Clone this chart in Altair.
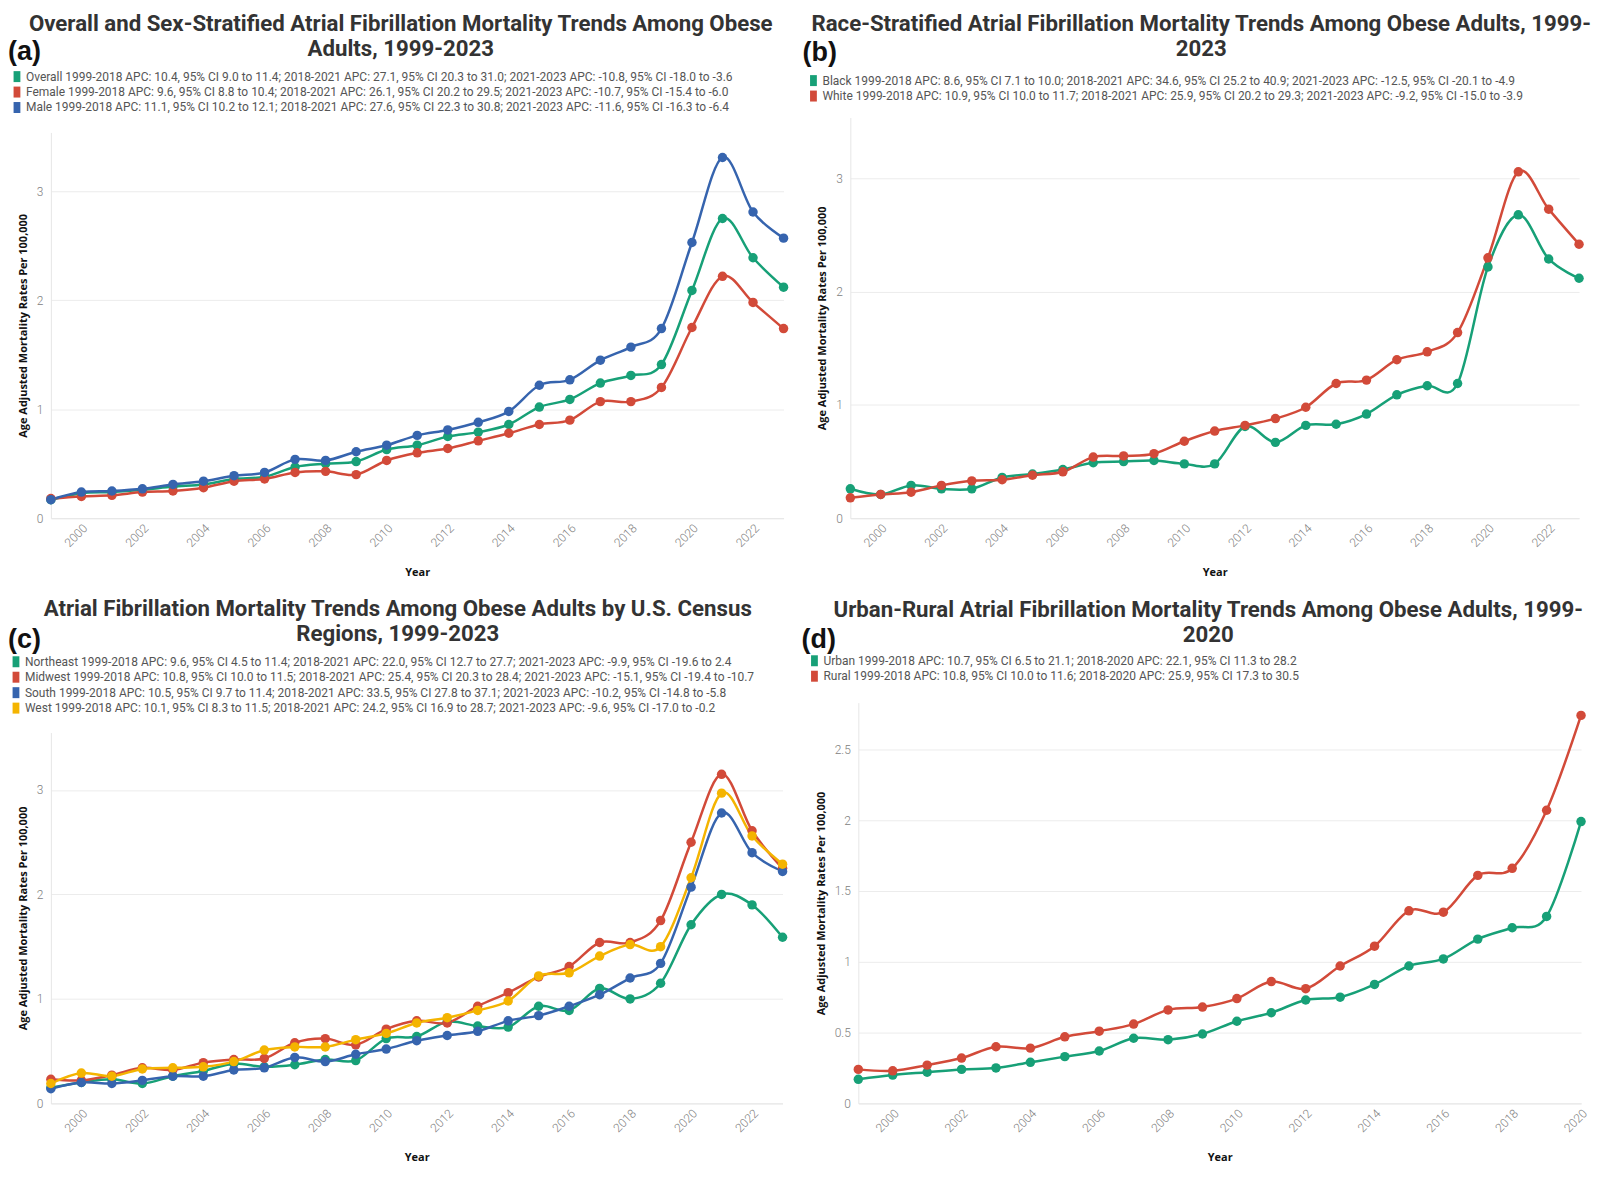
import altair as alt
import pandas as pd

# ---------------- data ----------------
years_full = list(range(1999, 2024))
years_ur = list(range(1999, 2021))

overall = [0.17, 0.23, 0.24, 0.26, 0.29, 0.31, 0.36, 0.38, 0.47, 0.50, 0.52, 0.63, 0.67,
           0.75, 0.79, 0.86, 1.02, 1.09, 1.24, 1.31, 1.41, 2.09, 2.75, 2.39, 2.12]
female = [0.18, 0.20, 0.21, 0.24, 0.25, 0.28, 0.34, 0.36, 0.42, 0.43, 0.40, 0.53, 0.60,
          0.64, 0.71, 0.78, 0.86, 0.90, 1.07, 1.07, 1.20, 1.75, 2.22, 1.98, 1.74]
male = [0.17, 0.24, 0.25, 0.27, 0.31, 0.34, 0.39, 0.42, 0.54, 0.53, 0.61, 0.67, 0.76,
        0.81, 0.88, 0.98, 1.22, 1.27, 1.45, 1.57, 1.74, 2.53, 3.31, 2.81, 2.57]

black = [0.26, 0.21, 0.29, 0.26, 0.26, 0.36, 0.39, 0.43, 0.49, 0.50, 0.51, 0.48, 0.48,
         0.81, 0.67, 0.82, 0.83, 0.92, 1.09, 1.17, 1.19, 2.22, 2.68, 2.29, 2.12]
white = [0.18, 0.21, 0.23, 0.29, 0.33, 0.34, 0.38, 0.41, 0.54, 0.55, 0.57, 0.68, 0.77,
         0.82, 0.88, 0.98, 1.19, 1.22, 1.40, 1.47, 1.64, 2.30, 3.06, 2.73, 2.42]

northeast = [0.15, 0.20, 0.23, 0.19, 0.26, 0.31, 0.38, 0.35, 0.37, 0.42, 0.41, 0.62, 0.64,
             0.78, 0.74, 0.73, 0.93, 0.89, 1.10, 1.00, 1.15, 1.71, 2.00, 1.90, 1.59]
midwest = [0.23, 0.22, 0.27, 0.34, 0.32, 0.39, 0.42, 0.43, 0.58, 0.62, 0.56, 0.71, 0.79,
           0.77, 0.93, 1.06, 1.21, 1.31, 1.54, 1.54, 1.75, 2.50, 3.15, 2.61, 2.25]
south = [0.14, 0.20, 0.19, 0.22, 0.26, 0.26, 0.32, 0.34, 0.44, 0.40, 0.47, 0.52, 0.60,
         0.65, 0.69, 0.79, 0.84, 0.93, 1.04, 1.20, 1.34, 2.07, 2.78, 2.40, 2.22]
west = [0.19, 0.29, 0.26, 0.33, 0.34, 0.35, 0.40, 0.51, 0.54, 0.54, 0.61, 0.67, 0.77,
        0.82, 0.89, 0.98, 1.22, 1.25, 1.41, 1.52, 1.50, 2.16, 2.97, 2.56, 2.29]

urban = [0.17, 0.20, 0.22, 0.24, 0.25, 0.29, 0.33, 0.37, 0.46, 0.45, 0.49, 0.58, 0.64,
         0.73, 0.75, 0.84, 0.97, 1.02, 1.16, 1.24, 1.32, 1.99]
rural = [0.24, 0.23, 0.27, 0.32, 0.40, 0.39, 0.47, 0.51, 0.56, 0.66, 0.68, 0.74, 0.86,
         0.81, 0.97, 1.11, 1.36, 1.35, 1.61, 1.66, 2.07, 2.74]

labels_a = [
    "Overall 1999-2018 APC: 10.4, 95% CI 9.0 to 11.4; 2018-2021 APC: 27.1, 95% CI 20.3 to 31.0; 2021-2023 APC: -10.8, 95% CI -18.0 to -3.6",
    "Female 1999-2018 APC: 9.6, 95% CI 8.8 to 10.4; 2018-2021 APC: 26.1, 95% CI 20.2 to 29.5; 2021-2023 APC: -10.7, 95% CI -15.4 to -6.0",
    "Male 1999-2018 APC: 11.1, 95% CI 10.2 to 12.1; 2018-2021 APC: 27.6, 95% CI 22.3 to 30.8; 2021-2023 APC: -11.6, 95% CI -16.3 to -6.4",
]
labels_b = [
    "Black 1999-2018 APC: 8.6, 95% CI 7.1 to 10.0; 2018-2021 APC: 34.6, 95% CI 25.2 to 40.9; 2021-2023 APC: -12.5, 95% CI -20.1 to -4.9",
    "White 1999-2018 APC: 10.9, 95% CI 10.0 to 11.7; 2018-2021 APC: 25.9, 95% CI 20.2 to 29.3; 2021-2023 APC: -9.2, 95% CI -15.0 to -3.9",
]
labels_c = [
    "Northeast 1999-2018 APC: 9.6, 95% CI 4.5 to 11.4; 2018-2021 APC: 22.0, 95% CI 12.7 to 27.7; 2021-2023 APC: -9.9, 95% CI -19.6 to 2.4",
    "Midwest 1999-2018 APC: 10.8, 95% CI 10.0 to 11.5; 2018-2021 APC: 25.4, 95% CI 20.3 to 28.4; 2021-2023 APC: -15.1, 95% CI -19.4 to -10.7",
    "South 1999-2018 APC: 10.5, 95% CI 9.7 to 11.4; 2018-2021 APC: 33.5, 95% CI 27.8 to 37.1; 2021-2023 APC: -10.2, 95% CI -14.8 to -5.8",
    "West 1999-2018 APC: 10.1, 95% CI 8.3 to 11.5; 2018-2021 APC: 24.2, 95% CI 16.9 to 28.7; 2021-2023 APC: -9.6, 95% CI -17.0 to -0.2",
]
labels_d = [
    "Urban 1999-2018 APC: 10.7, 95% CI 6.5 to 21.1; 2018-2020 APC: 22.1, 95% CI 11.3 to 28.2",
    "Rural 1999-2018 APC: 10.8, 95% CI 10.0 to 11.6; 2018-2020 APC: 25.9, 95% CI 17.3 to 30.5",
]

titles_a = ["Overall and Sex-Stratified Atrial Fibrillation Mortality Trends Among Obese", "Adults, 1999-2023"]
titles_b = ["Race-Stratified Atrial Fibrillation Mortality Trends Among Obese Adults, 1999-", "2023"]
titles_c = ["Atrial Fibrillation Mortality Trends Among Obese Adults by U.S. Census", "Regions, 1999-2023"]
titles_d = ["Urban-Rural Atrial Fibrillation Mortality Trends Among Obese Adults, 1999-", "2020"]

xticks_full = list(range(2000, 2023, 2))
xticks_ur = list(range(2000, 2021, 2))
yticks_int = [0, 1, 2, 3]
yticks_half = [0, 0.5, 1, 1.5, 2, 2.5]

GREEN = "#17a077"
RED = "#d24a39"
BLUE = "#3664ae"
YELLOW = "#f4b400"

RECT = "M-0.62,-1H0.62V1H-0.62Z"
TITLE_FONT = "Roboto"
TAG_FONT = "Liberation Sans, Arial"
YTITLE = "Age Adjusted Mortality Rates Per 100,000"
H = 402
TITLE_LH = 25.5


def text_layer(txt, x, y, font, size, color, align):
    one = pd.DataFrame({"k": [0]})
    return alt.Chart(one).mark_text(
        text=txt, align=align, baseline="top", font=font, fontSize=size,
        fontWeight="bold", color=color
    ).encode(x=alt.value(x), y=alt.value(y))


def make_panel(years, series, labels, colors, title_lines, tag, w, top_inset, ymax,
               yticks, xticks, geo):
    rows = []
    for lab, vals in zip(labels, series):
        for yr, v in zip(years, vals):
            rows.append({"year": yr, "rate": v, "series": lab})
    df = pd.DataFrame(rows)

    x = alt.X("year:Q",
              scale=alt.Scale(domain=[years[0], years[-1]], nice=False, zero=False),
              axis=alt.Axis(values=xticks, format="d", labelAngle=-45, title="Year",
                            grid=False, ticks=False, labelPadding=4, titlePadding=18,
                            domainColor="#e6e6e6"))
    y = alt.Y("rate:Q",
              scale=alt.Scale(domain=[0, ymax], nice=False, zero=True,
                              range=[H, top_inset]),
              axis=alt.Axis(values=yticks, format="~g", title=YTITLE, grid=True,
                            ticks=False, labelPadding=8, titlePadding=8,
                            domainColor="#e6e6e6", gridColor="#ececec"))
    cscale = alt.Scale(domain=labels, range=colors)
    leg = alt.Legend(orient="none", legendX=geo["lx"], legendY=geo["ly"],
                     title=None, direction="vertical", symbolType=RECT,
                     symbolSize=121, symbolStrokeWidth=0, symbolOpacity=1,
                     labelFont="Roboto", labelFontSize=12, labelColor="#555",
                     labelLimit=0, rowPadding=3.5, labelOffset=3)
    color = alt.Color("series:N", scale=cscale, sort=labels, legend=leg)

    lines = alt.Chart(df).mark_line(interpolate="cardinal", strokeWidth=2.5).encode(
        x=x, y=y, color=color, order="year:Q")
    pts = alt.Chart(df).mark_circle(size=90, opacity=1).encode(x=x, y=y, color=color)

    t1 = text_layer(title_lines[0], geo["tx"], geo["ty"], TITLE_FONT, 22.3, "#333333", "center")
    t2 = text_layer(title_lines[1], geo["tx"], geo["ty"] + TITLE_LH, TITLE_FONT, 22.3, "#333333", "center")
    tg = text_layer(tag, geo["gx"], geo["gy"], TAG_FONT, 27, "#111111", "left")

    return alt.layer(lines, pts, t1, t2, tg).properties(width=w, height=H)


pa = make_panel(years_full, [overall, female, male], labels_a, [GREEN, RED, BLUE],
                titles_a, "(a)", 735, 15, 3.54, yticks_int, xticks_full,
                {"lx": -40, "ly": -47, "tx": 351, "ty": -105, "gx": -43, "gy": -79})
pb = make_panel(years_full, [black, white], labels_b, [GREEN, RED],
                titles_b, "(b)", 731, 0, 3.54, yticks_int, xticks_full,
                {"lx": -43, "ly": -43, "tx": 352, "ty": -105, "gx": -48, "gy": -78})
pc = make_panel(years_full, [northeast, midwest, south, west], labels_c,
                [GREEN, RED, BLUE, YELLOW],
                titles_c, "(c)", 734, 30, 3.55, yticks_int, xticks_full,
                {"lx": -41, "ly": -47, "tx": 348, "ty": -105, "gx": -43, "gy": -76})
pd_ = make_panel(years_ur, [urban, rural], labels_d, [GREEN, RED],
                 titles_d, "(d)", 725, 0, 2.83, yticks_half, xticks_ur,
                 {"lx": -50, "ly": -48, "tx": 351, "ty": -104, "gx": -57, "gy": -76})

row1 = alt.hconcat(pa, pb, spacing=14).resolve_scale(
    color="independent", x="independent", y="independent").resolve_legend(color="independent")
row2 = alt.hconcat(pc, pd_, spacing=14).resolve_scale(
    color="independent", x="independent", y="independent").resolve_legend(color="independent")

chart = alt.vconcat(row1, row2, spacing=20).resolve_scale(
    color="independent", x="independent", y="independent"
).resolve_legend(color="independent").properties(
    padding={"left": 0, "top": 3, "right": 0, "bottom": 0},
    background="white",
).configure_view(stroke=None).configure_axis(
    labelFont="Roboto", labelFontSize=12, labelColor="#808080", labelFontWeight=300,
    titleFont="Open Sans", titleFontSize=11, titleFontWeight="bold", titleColor="#111111",
)

chart.save("out.html", embed_options={"renderer": "svg", "actions": False})
